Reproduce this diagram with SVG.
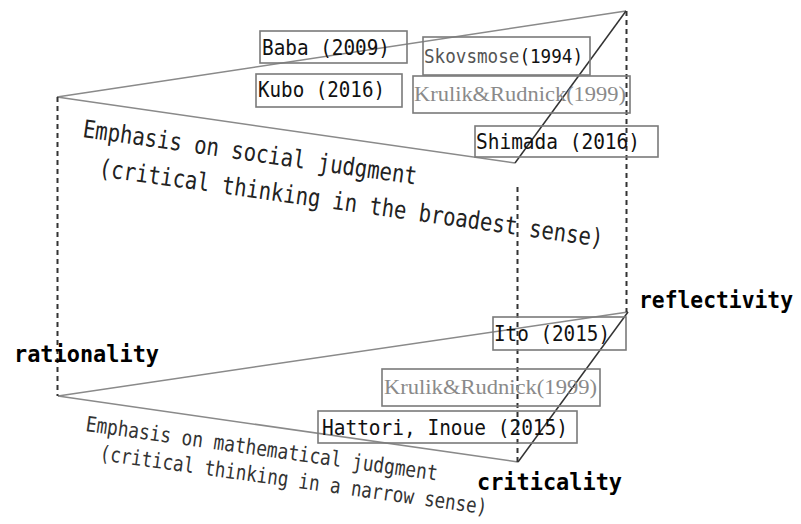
<svg xmlns="http://www.w3.org/2000/svg" width="801" height="524" viewBox="0 0 801 524">
<style>
.edge{stroke:#8a8a8a;stroke-width:1.5;fill:none}
.diag{stroke:#333;stroke-width:1.5;fill:none}
.dash{stroke:#333;stroke-width:2;stroke-dasharray:5 4;fill:none}
.box{fill:none;stroke:#7a7a7a;stroke-width:1.6}
.bt{font-family:"DejaVu Sans Mono","Liberation Mono",monospace;font-size:19.4px;fill:#111}
.gt{font-family:"Liberation Serif",serif;font-size:20px;fill:#8a8a8a}
.rt{font-family:"DejaVu Sans Mono","Liberation Mono",monospace;font-size:20.6px;fill:#222}
.rs{font-family:"DejaVu Sans Mono","Liberation Mono",monospace;font-size:17.7px;fill:#333}
.lab{font-family:"DejaVu Sans Mono","Liberation Mono",monospace;font-weight:bold;fill:#000}
</style>
<g id="connectors">
  <line class="edge" x1="57" y1="97" x2="626" y2="11"/>
  <line class="edge" x1="57" y1="97" x2="515" y2="163"/>
  <line class="diag" x1="515" y1="163" x2="626" y2="11"/>
  <line class="edge" x1="58" y1="396" x2="628" y2="312"/>
  <line class="edge" x1="58" y1="396" x2="518" y2="462"/>
  <line class="diag" x1="518" y1="462" x2="628" y2="312"/>
  <line class="dash" x1="57.5" y1="97" x2="57.5" y2="396"/>
  <line class="dash" x1="626.5" y1="11" x2="626.5" y2="312"/>
  <line class="dash" x1="517.5" y1="187" x2="517.5" y2="462"/>
</g>
<g id="baba"><rect class="box" x="260" y="31" width="147" height="32"/><text class="bt" transform="translate(262,55) scale(1,1.1)" textLength="128" lengthAdjust="spacingAndGlyphs">Baba (2009)</text></g>
<g id="kubo"><rect class="box" x="256" y="74" width="146" height="33"/><text class="bt" transform="translate(258,97) scale(1,1.1)" textLength="127" lengthAdjust="spacingAndGlyphs">Kubo (2016)</text></g>
<g id="skovsmose"><rect class="box" x="423" y="37" width="167" height="38"/><text class="bt" transform="translate(424,63) scale(1,1.1)" style="font-size:18px" textLength="159" lengthAdjust="spacingAndGlyphs"><tspan style="fill:#555">Skovsmose</tspan>(1994)</text></g>
<g id="krulik-top"><rect class="box" x="413" y="76" width="217" height="37"/><text class="gt" x="414" y="101" textLength="212" lengthAdjust="spacingAndGlyphs">Krulik&amp;Rudnick(1999)</text></g>
<g id="shimada"><rect class="box" x="475" y="126" width="183" height="31"/><text class="bt" transform="translate(476,149) scale(1,1.1)" textLength="164" lengthAdjust="spacingAndGlyphs">Shimada (2016)</text></g>
<g id="ito"><rect class="box" x="493" y="317" width="133" height="33"/><text class="bt" transform="translate(494,341) scale(1,1.1)" textLength="116" lengthAdjust="spacingAndGlyphs">Ito (2015)</text></g>
<g id="krulik-bottom"><rect class="box" x="382" y="369" width="218" height="37"/><text class="gt" x="384" y="394" textLength="213" lengthAdjust="spacingAndGlyphs">Krulik&amp;Rudnick(1999)</text></g>
<g id="hattori"><rect class="box" x="318" y="411" width="259" height="32"/><text class="bt" transform="translate(322,435) scale(1,1.1)" textLength="246" lengthAdjust="spacingAndGlyphs">Hattori, Inoue (2015)</text></g>
<g id="social">
  <text class="rt" transform="translate(82,137) rotate(8.1) scale(1,1.2)" textLength="337" lengthAdjust="spacingAndGlyphs">Emphasis on social judgment</text>
  <text class="rt" transform="translate(98,176) rotate(8.0) scale(1,1.2)" textLength="509" lengthAdjust="spacingAndGlyphs">(critical thinking in the broadest sense)</text>
</g>
<g id="mathematical">
  <text class="rs" transform="translate(85,431) rotate(8.0) scale(1,1.2)" textLength="355" lengthAdjust="spacingAndGlyphs">Emphasis on mathematical judgment</text>
  <text class="rs" transform="translate(99,460) rotate(8.0) scale(1,1.2)" textLength="391" lengthAdjust="spacingAndGlyphs">(critical thinking in a narrow sense)</text>
</g>
<g id="rationality"><text class="lab" style="font-size:21.9px" transform="translate(14,362) scale(1,1.05)" textLength="145" lengthAdjust="spacingAndGlyphs">rationality</text></g>
<g id="reflectivity"><text class="lab" style="font-size:21.3px" transform="translate(639,308) scale(1,1.05)" textLength="154" lengthAdjust="spacingAndGlyphs">reflectivity</text></g>
<g id="criticality"><text class="lab" style="font-size:21.9px" transform="translate(477,490) scale(1,1.05)" textLength="145" lengthAdjust="spacingAndGlyphs">criticality</text></g>
</svg>
